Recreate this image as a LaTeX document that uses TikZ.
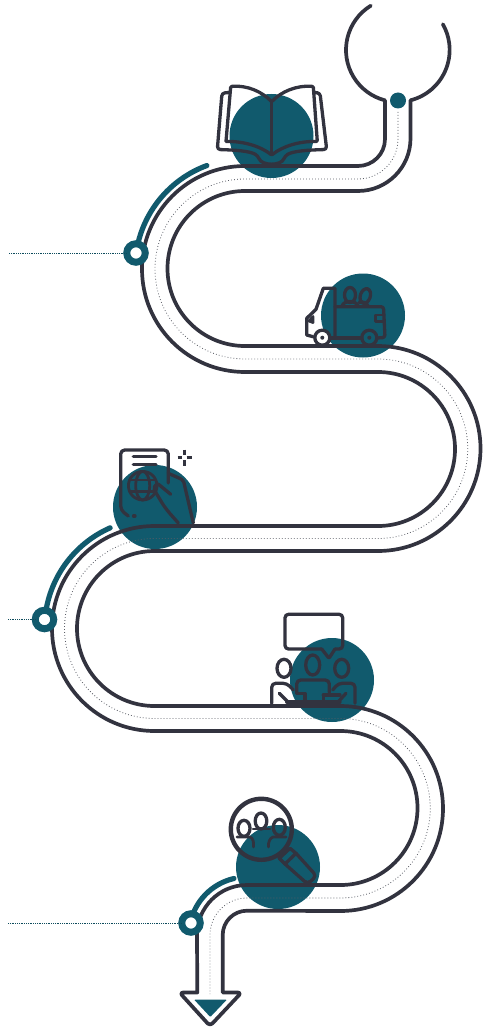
\documentclass[tikz,border=0pt]{standalone}
\definecolor{teal1}{HTML}{115A6D}
\definecolor{ink}{HTML}{32333F}
\definecolor{dots}{HTML}{5A5D66}
\tikzset{
  road/.style={draw=ink,line width=3.7pt,line join=round,line cap=round},
  icon/.style={draw=ink,line width=3.3pt,line join=round,line cap=round},
  thin icon/.style={draw=ink,line width=2.8pt,line join=round,line cap=round},
  blob/.style={circle,fill=teal1,draw=none,inner sep=0pt,minimum size=84pt},
  ring/.style={circle,fill=white,draw=teal1,line width=7pt,inner sep=0pt,minimum size=18.5pt,outer sep=0pt},
  swoosh/.style={draw=teal1,line width=5.2pt,line cap=round},
  centre dots/.style={draw=dots,line width=.8pt,dash pattern=on .8pt off 2.2pt},
  leader/.style={draw=teal1!85!black,line width=1pt,dash pattern=on 1pt off .8pt},
}
\begin{document}
\begin{tikzpicture}[x=1pt,y=1pt,yscale=-1]
\useasboundingbox (0,0) rectangle (489,1027);
% teal discs
\node[blob] (bookdisc) at (271.5,136) {};
\node[blob] (vandisc) at (363,315.5) {};
\node[blob] (eurodisc) at (155,507) {};
\node[blob] (teamdisc) at (332,680) {};
\node[blob] (lensdisc) at (278,867) {};
% leaders
\coordinate (l1) at (9,253);
\coordinate (l2) at (8,619.5);
\coordinate (l3) at (8,923);
% swooshes
\draw[swoosh] (245,268.7)+(188.2:110) arc (188.2:249.7:110);
\draw[swoosh] (154.5,628.5)+(184.7:110) arc (184.7:246.2:110);
\draw[swoosh] (247,935)+(192:58) arc (192:257:58);
% centre dotted line
\draw[centre dots] (398,112) -- (398,139) arc (0:90:40) -- (245,179) arc (270:90:90)
  -- (378,359) arc (-90:90:89.75) -- (154.5,538.5) arc (270:90:90)
  -- (340.5,718.5) arc (-90:90:89.75) -- (247,898) arc (270:180:37) -- (210,994);
% road outline
\draw[road] (398,50)+(238.5:52) arc (238.5:104.6:52) -- (385,139) arc (0:90:27)
  -- (245,166) arc (270:90:103) -- (378,372) arc (-90:90:77)
  -- (154.5,526) arc (270:90:102.5) -- (340.5,731) arc (-90:90:77)
  -- (247,885) arc (270:180:50) -- (197.3,992.5)
  [rounded corners=3.5pt] -- (179.5,992.5) -- (210,1026) -- (241.5,992.5) [sharp corners] -- (222.7,992.5)
  -- (222.7,935) arc (180:270:24.3) -- (340.5,911) arc (90:-90:102.5)
  -- (154.5,706) arc (90:270:77.5) -- (378,551) arc (90:-90:102.5)
  -- (245,346) arc (90:270:77.5) -- (358,191) arc (90:0:52.5) -- (410.5,100.3)
  arc (75.7:-29.6:52);
% arrow core and top dot
\fill[teal1,rounded corners=1pt] (194,999.5) -- (227,999.5) -- (210.3,1017) -- cycle;
\node[circle,fill=teal1,inner sep=0pt,minimum size=16pt] (topdot) at (398,100.5) {};
% rings
\node[ring] (r1) at (136,253) {};
\node[ring] (r2) at (44.5,619.5) {};
\node[ring] (r3) at (191,923) {};
\draw[leader] (l1) -- (r1);
\draw[leader] (l2) -- (r2);
\draw[leader] (l3) -- (r3);
% book
\draw[icon] (271.7,101.7) -- (271.7,153);
\draw[icon,rounded corners=1pt] (226,141.5) -- (230.7,86.5)
  .. controls (248,85) and (262,92) .. (271.7,101.7)
  .. controls (281,92) and (296,85) .. (313.3,86.5) -- (317.3,141.5)
  .. controls (300,141) and (283,146) .. (271.7,155)
  .. controls (260,146) and (243,141) .. (226,141.5);
\draw[icon,rounded corners=3pt] (229.5,92.5) -- (222,93) -- (217.3,149.5)
  .. controls (235,150) and (250,151) .. (258,156)
  .. controls (262,166) and (281,166) .. (285,156)
  .. controls (293,151) and (308,150) .. (326.7,149.5) -- (320,93) -- (314.5,92.5);
% van
\draw[icon] (335,338.3) -- (335,288.3) -- (323.3,288.3) -- (316,309.3) -- (306.7,318.3) -- (306.7,335) -- (313,336.7);
\draw[icon,rounded corners=2.5pt] (335,306.7) -- (383.5,306.7) -- (385,337.5) -- (377,338);
\draw[icon] (330,338) -- (361.7,338);
\draw[thin icon] (384,315) -- (375.5,315) -- (375.5,321.7) -- (384,321.7);
\draw[thin icon] (309,321) -- (313,316.5) -- (313,322.5) -- cycle;
\draw[icon,fill=white] (322.3,337.7) circle (7.5);
\fill[ink] (322.3,337.7) circle (2);
\draw[icon] (369.3,337.7) circle (7.5);
\fill[ink] (369.3,337.7) circle (2);
\draw[icon] (350,295) ellipse (5.5 and 7.5);
\draw[icon,rotate around={18:(365.3,296)}] (365.3,296) ellipse (5 and 7.5);
\draw[icon] (342,306) .. controls (344,300) and (356,300) .. (358,306);
\draw[icon] (359,302.5) .. controls (363,301) and (367,303) .. (368,306);
% euro card
\draw[icon,rounded corners=4pt] (128.3,516) -- (120.7,510) -- (120.7,450) -- (168.3,450) -- (168.3,483);
\draw[icon] (133.5,516) -- (135,516);
\draw[icon] (133.3,456.7) -- (156,456.7);
\draw[icon] (133.3,464.3) -- (156,464.3);
\draw[icon,rounded corners=2pt] (170.7,494.3) -- (157.3,483.3) -- (153.3,488.3) -- (163.3,505) -- (168.3,511.7) -- (178.3,523);
\draw[icon,rounded corners=2pt] (168.3,473.3) -- (183.3,480) -- (193.3,523);
\draw[thin icon] (142.7,485.7) circle (14.3);
\draw[thin icon] (142.7,485.7) ellipse (7 and 14.3);
\draw[thin icon] (129.5,480) -- (155,480);
\draw[thin icon] (129.5,491.7) -- (155,491.7);
\draw[icon,line cap=butt] (184.3,449.5) -- (184.3,454.5);
\draw[icon,line cap=butt] (184.3,460.2) -- (184.3,465.5);
\draw[icon,line cap=butt] (177.5,457.3) -- (182,457.3);
\draw[icon,line cap=butt] (186.7,457.3) -- (191.5,457.3);
% team
\draw[icon,rounded corners=3.5pt] (321.7,649) -- (285,649) -- (285,614.3) -- (342.7,614.3) -- (342.7,649) -- (335,649);
\draw[icon,rounded corners=1pt] (321.7,649) -- (329,658.3) -- (335,649);
\draw[icon] (284,668.3) ellipse (7 and 9);
\draw[icon] (312.7,665) ellipse (7 and 10);
\draw[icon] (341.7,668.3) ellipse (7 and 9);
\draw[icon,rounded corners=4pt] (271.7,703.3) -- (271.7,683.3) -- (287,683.3) -- (293.3,690);
\draw[icon] (279.3,693.3) -- (288.3,702.3);
\draw[icon,rounded corners=4pt] (296.7,693.3) -- (296.7,680) -- (329.3,680) -- (329.3,692.3);
\draw[icon] (286.7,702) -- (340,702);
\draw[icon] (296.7,693.3) -- (305,693.3) -- (305,702);
\draw[icon] (323.3,695) -- (340,695);
\draw[icon] (323.3,695) -- (323.3,702);
\draw[icon,rounded corners=4pt] (355,703.3) -- (355,683.3) -- (338.3,683.3) -- (332.7,690);
\draw[icon] (346,693.3) -- (338.3,701.7);
% magnifier
\draw[draw=ink,line width=4.4pt] (261.3,829.3) circle (30.5);
\draw[icon] (279.3,858.3) -- (285,864) -- (296,853.3) -- (290,848.3) -- cycle;
\draw[icon,rounded corners=4pt] (285,864) -- (307.5,884) -- (316.5,876) -- (296,853.3);
\draw[icon] (244,828.3) ellipse (6 and 8);
\draw[icon] (261,821) ellipse (5.8 and 8);
\draw[icon] (279.3,827.3) ellipse (6 and 8);
\draw[thin icon] (237,837) -- (250,837) .. controls (253,838) and (254,842) .. (253.5,847);
\draw[thin icon] (253,829) -- (270,829);
\draw[thin icon] (286,837) -- (273,837) .. controls (270,838) and (268,842) .. (268.5,847);
\end{tikzpicture}
\end{document}
